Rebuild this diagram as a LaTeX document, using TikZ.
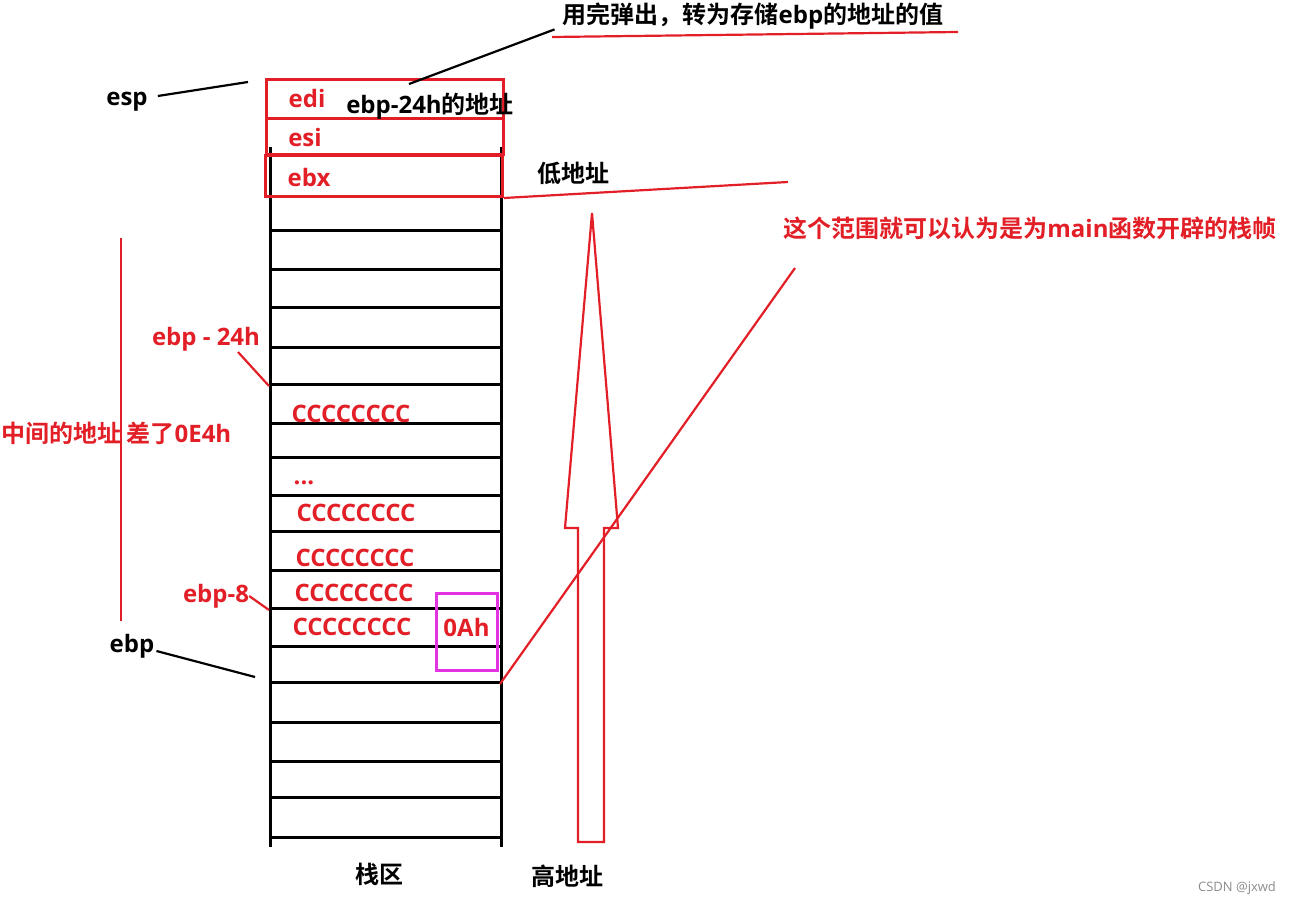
\documentclass[tikz,border=0pt]{standalone}
\usepackage{fontspec}
\setmainfont{Noto Sans CJK SC}[BoldFont={Noto Sans CJK SC Bold}]
\newfontfamily\lat{Open Sans}
\usepackage{tikz}
\usetikzlibrary{positioning}
\definecolor{penred}{RGB}{226,30,38}
\definecolor{penpink}{RGB}{226,50,226}
\tikzstyle{lbl} = [font=\bfseries\fontsize{24}{24}\selectfont, inner sep=0]
\tikzstyle{redlbl} = [lbl, text=penred]
\tikzstyle{latlbl} = [font=\lat\bfseries\fontsize{24}{24}\selectfont, inner sep=0]
\tikzstyle{redlat} = [latlbl, text=penred]
\tikzstyle{regbox} = [draw=penred, line width=3pt, rectangle, minimum width=237pt, inner sep=0]
\tikzstyle{redline} = [draw=penred, line width=2.2pt]
\tikzstyle{inkline} = [draw=black, line width=2.2pt]
\tikzstyle{cell} = [line width=3pt]

\begin{document}
\begin{tikzpicture}[x=1pt, y=-1pt]
	  \useasboundingbox (0,0) rectangle (1301,909);
	  % stack column
	  \draw [cell] (270,147) -- (270,847);
	  \draw [cell] (501,147) -- (501,847);
	  \foreach \y in {155,197,231,270,308,347,384,423,457,495,531,570,608,646,682,722,761,797,837}
	    \draw [cell] (270,\y) -- (501,\y);
	
	  \node [regbox, minimum height=39pt] (edibox) at (385,99.5) {};
	  \node [regbox, minimum height=36pt] (esibox) at (385,137) {};
	  \node [regbox, minimum height=41pt] (ebxbox) at (384,176) {};
	  \node [draw=penpink, line width=3pt, minimum width=61pt, minimum height=77pt] (slot) at (466.5,631.5) {};
	
	  \node [redlat] (edi) at (307,99) {edi};
	  \node [redlat] (esi) at (305,138) {esi};
	  \node [redlat] (ebx) at (309,178) {ebx};
	  \node [lbl] (edinote) at (430,106) {{\lat ebp-24h}的地址};
	  \node [latlbl] (esp) at (127,102) {esp};
	  \node [lbl] (popnote) at (753,16) {用完弹出，转为存储{\lat ebp}的地址的值};
	  \node [lbl] (low) at (573,173) {低地址};
	  \node [redlbl] (frame) at (1030,228) {这个范围就可以认为是为{\lat main}函数开辟的栈帧};
	  \node [redlbl, anchor=west] (gap) at (1,433) {中间的地址 差了{\lat 0E4h}};
	  \node [redlat] (ebp24) at (206,339) {ebp - 24h};
	  \node [redlat] (fill1) at (351,414) {CCCCCCCC};
	  \node [redlat] (dots) at (304,483) {...};
	  \node [redlat] (fill2) at (356,513) {CCCCCCCC};
	  \node [redlat] (fill3) at (355,558) {CCCCCCCC};
	  \node [redlat] (fill4) at (354,593) {CCCCCCCC};
	  \node [redlat] (fill5) at (352,627) {CCCCCCCC};
	  \node [redlat] (ebp8) at (216,596) {ebp-8};
	  \node [redlat] (tenval) at (slot.center) [yshift=4pt] {0Ah};
	  \node [latlbl] (ebp) at (132,646) {ebp};
	  \node [lbl] (stackname) at (379,874) {栈区};
	  \node [lbl] (high) at (567,876) {高地址};
	  \node [font=\lat\fontsize{13}{13}\selectfont, text=black!45, inner sep=0] (mark) at (1237,888) {CSDN @jxwd};
	
	  \coordinate (esptip) at (248,82);
	  \coordinate (callfoot) at (409,84);
	  \coordinate (ulstart) at (552,37);
	  \coordinate (ulend) at (958,32);
	  \coordinate (lowend) at (788,182);
	  \coordinate (rangetop) at (795,268);
	  \coordinate (ebpslot) at (500,684);
	  \coordinate (ebp24foot) at (238,352);
	  \coordinate (ebp24cell) at (269,386);
	  \coordinate (ebp8cell) at (269,610);
	  \coordinate (ebpcell) at (255,677);
	
	  \draw [inkline] ([shift={(10pt,6pt)}]esp.east) -- (esptip);
	  \draw [inkline] (callfoot) -- ([xshift=-8pt]popnote.south west);
	  \draw [inkline] ([shift={(2pt,-5pt)}]ebp.east) -- (ebpcell);
	  \draw [redline] (ulstart) -- (ulend);
	  \draw [redline] (ebxbox.south east) -- (lowend);
	  \draw [redline] (rangetop) -- (ebpslot);
	  \draw [redline] (ebp24foot) -- (ebp24cell);
	  \draw [redline] (ebp8.east) -- (ebp8cell);
	  \draw [redline] (121,238) -- (121,621);
	  % arrow towards low addresses
	  \draw [redline] (592,213) -- (618,528) -- (604,528) -- (604,842) -- (578,842)
	    -- (578,528) -- (565,528) -- cycle;
	\end{tikzpicture}
\end{document}
